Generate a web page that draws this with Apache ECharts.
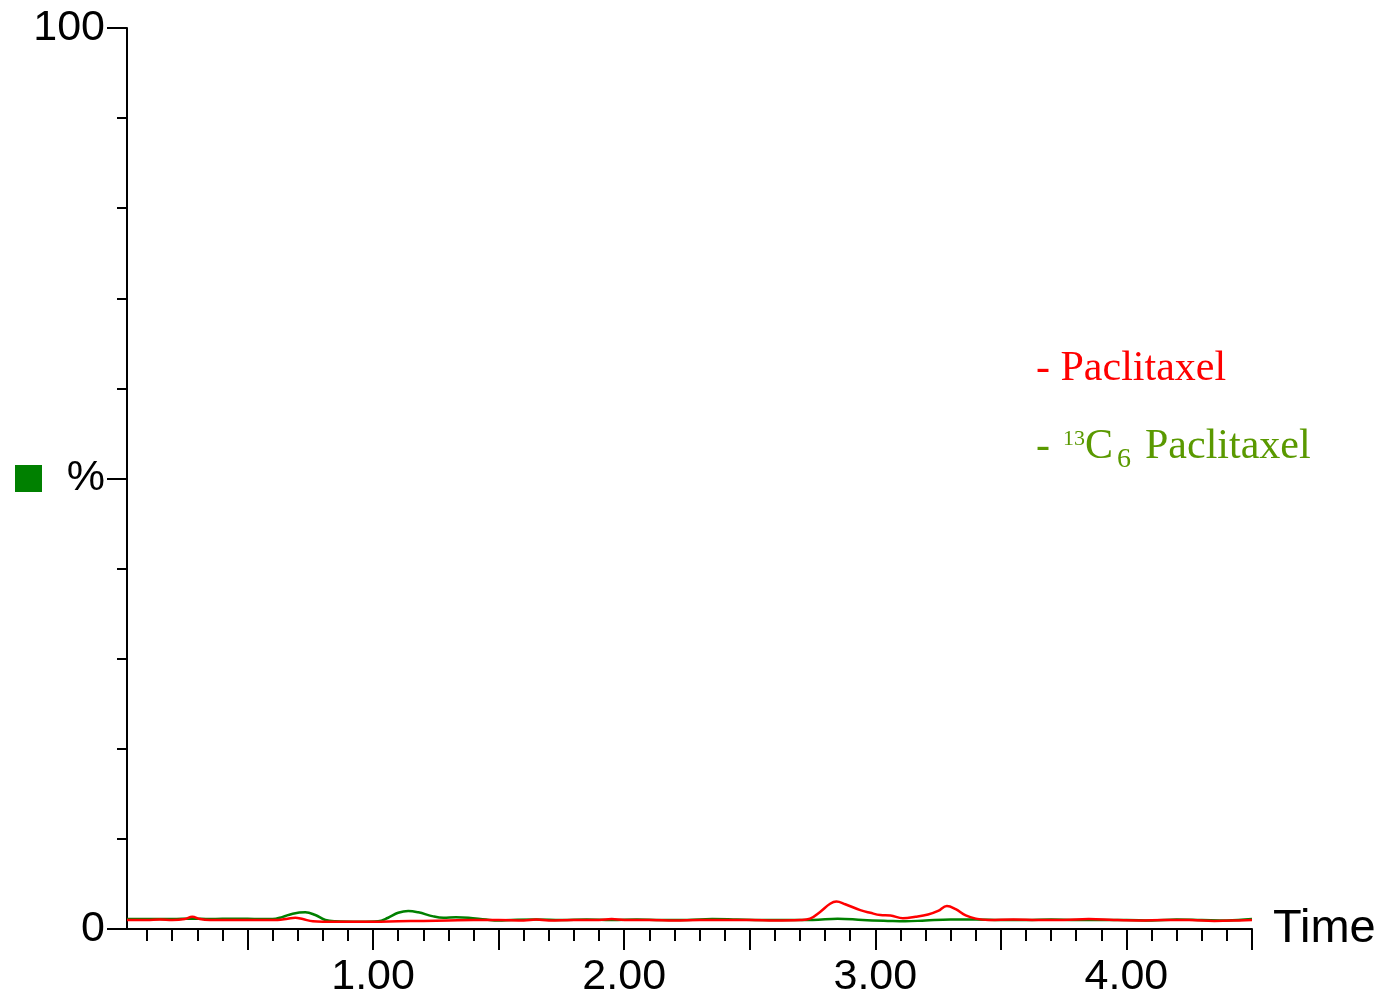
<!DOCTYPE html>
<html>
<head>
<meta charset="utf-8">
<script src="https://cdn.jsdelivr.net/npm/echarts@6/dist/echarts.min.js"></script>
<style>html,body{margin:0;padding:0;background:#fff}#c{width:1382px;height:1001px}</style>
</head>
<body>
<div id="c"></div>
<script>
// ---- data ----
const redTime = [0.02,0.10,0.15,0.20,0.25,0.28,0.31,0.35,0.45,0.55,0.62,0.66,0.69,0.72,0.76,0.80,0.90,1.00,1.10,1.20,1.30,1.40,1.50,1.60,1.65,1.70,1.80,1.90,1.95,2.00,2.10,2.20,2.30,2.40,2.50,2.60,2.70,2.74,2.78,2.82,2.845,2.88,2.94,2.98,3.02,3.06,3.11,3.16,3.21,3.25,3.285,3.32,3.36,3.40,3.45,3.55,3.65,3.75,3.85,3.95,4.05,4.15,4.25,4.35,4.45,4.50];
const redValue = [1.0,1.0,1.05,1.0,1.1,1.35,1.1,1.0,1.0,1.0,1.0,1.15,1.25,1.1,0.85,0.8,0.8,0.8,0.85,0.9,0.95,1.0,1.0,0.95,1.05,0.95,1.0,1.0,1.1,1.0,1.0,0.95,1.0,1.0,1.0,0.95,1.0,1.15,1.9,2.8,3.05,2.75,2.1,1.8,1.55,1.5,1.2,1.35,1.6,2.0,2.55,2.2,1.5,1.15,1.0,1.05,1.0,1.0,1.1,1.0,0.95,1.0,1.0,0.9,0.95,1.0];
const greenTime = [0.02,0.10,0.20,0.28,0.35,0.45,0.55,0.60,0.64,0.68,0.73,0.77,0.81,0.85,0.95,1.02,1.06,1.10,1.14,1.18,1.24,1.28,1.33,1.38,1.45,1.50,1.55,1.65,1.75,1.85,1.95,2.05,2.15,2.25,2.35,2.45,2.55,2.65,2.75,2.85,2.95,3.05,3.12,3.20,3.30,3.40,3.50,3.60,3.70,3.80,3.90,4.00,4.10,4.20,4.30,4.40,4.50];
const greenValue = [1.1,1.1,1.1,1.15,1.1,1.15,1.1,1.1,1.35,1.7,1.85,1.55,1.0,0.85,0.8,0.85,1.25,1.8,2.0,1.85,1.4,1.25,1.3,1.25,1.05,0.95,1.0,1.05,1.0,1.05,1.0,1.05,1.0,1.0,1.1,1.05,1.0,1.0,1.0,1.15,1.0,0.9,0.85,0.95,1.05,1.05,1.0,1.0,1.05,1.0,1.0,1.0,0.95,1.05,1.0,0.95,1.1];
const xMajorTicks = [0.5,1,1.5,2,2.5,3,3.5,4,4.5];
const xMinorTicks = [0.1,0.2,0.3,0.4,0.6,0.7,0.8,0.9,1.1,1.2,1.3,1.4,1.6,1.7,1.8,1.9,2.1,2.2,2.3,2.4,2.6,2.7,2.8,2.9,3.1,3.2,3.3,3.4,3.6,3.7,3.8,3.9,4.1,4.2,4.3,4.4];
const xLabels = [1,2,3,4];
const yMajorTicks = [0,50,100];
const yMinorTicks = [10,20,30,40,60,70,80,90];
const yLabels = [0,50,100];
const seriesNames = ['Paclitaxel','13C6 Paclitaxel'];

const SANS = '"Liberation Sans", Arial, Helvetica, sans-serif';
const SERIF = '"Liberation Serif", "Times New Roman", serif';
const RED = '#ff0000', GREEN = '#008000', LEG_GREEN = '#5a9900';

const chart = echarts.init(document.getElementById('c'));
const tickStyle = {color:'#000', width:2};
chart.setOption({
  animation: false,
  backgroundColor: '#fff',
  grid: {left:127, right:130, top:28, bottom:72, containLabel:false},
  xAxis: [
    {type:'value', min:0.02, max:4.5, position:'bottom',
     axisLine:{show:true, onZero:false, lineStyle:{color:'#000', width:2}},
     axisTick:{show:true, customValues:xMajorTicks, length:21, lineStyle:tickStyle},
     axisLabel:{customValues:xLabels, formatter:v=>Number(v).toFixed(2), fontSize:43, color:'#000', fontFamily:SANS, margin:27},
     splitLine:{show:false},
     name:'Time', nameLocation:'end', nameGap:21,
     nameTextStyle:{fontSize:47, color:'#000', fontFamily:SANS, verticalAlign:'middle', align:'left', padding:[5,0,0,0]}},
    {type:'value', min:0.02, max:4.5, position:'bottom',
     axisLine:{show:false, onZero:false},
     axisTick:{show:true, customValues:xMinorTicks, length:12, lineStyle:tickStyle},
     axisLabel:{show:false}, splitLine:{show:false}}
  ],
  yAxis: [
    {type:'value', min:0, max:100, position:'left',
     axisLine:{show:true, onZero:false, lineStyle:{color:'#000', width:2}},
     axisTick:{show:true, customValues:yMajorTicks, length:20, lineStyle:tickStyle},
     axisLabel:{customValues:yLabels, formatter:v=>(v===50?'%':String(v)), fontSize:43, color:'#000', fontFamily:SANS, margin:22},
     splitLine:{show:false}},
    {type:'value', min:0, max:100, position:'left',
     axisLine:{show:false, onZero:false},
     axisTick:{show:true, customValues:yMinorTicks, length:10, lineStyle:tickStyle},
     axisLabel:{show:false}, splitLine:{show:false}}
  ],
  series: [
    {name:seriesNames[1], type:'line', xAxisIndex:0, yAxisIndex:0, showSymbol:false, smooth:0.4,
     lineStyle:{color:GREEN, width:2.5}, data:greenTime.map((t,i)=>[t,greenValue[i]])},
    {name:seriesNames[0], type:'line', xAxisIndex:0, yAxisIndex:0, showSymbol:false, smooth:0.4,
     lineStyle:{color:RED, width:2.5}, data:redTime.map((t,i)=>[t,redValue[i]])}
  ],
  graphic: [
    {type:'rect', left:15, top:465, shape:{width:27, height:27}, style:{fill:GREEN}},
    {type:'text', x:1036, y:369, style:{text:'- ' + seriesNames[0], font:'42px ' + SERIF, fill:RED, textVerticalAlign:'middle'}},
    {type:'text', x:1036, y:446.5, style:{text:'-', font:'42px ' + SERIF, fill:LEG_GREEN, textVerticalAlign:'middle'}},
    {type:'text', x:1063, y:439, style:{text:'13', font:'22px ' + SERIF, fill:LEG_GREEN, textVerticalAlign:'middle'}},
    {type:'text', x:1085, y:446.5, style:{text:'C', font:'42px ' + SERIF, fill:LEG_GREEN, textVerticalAlign:'middle'}},
    {type:'text', x:1117, y:459.5, style:{text:'6', font:'28px ' + SERIF, fill:LEG_GREEN, textVerticalAlign:'middle'}},
    {type:'text', x:1145, y:446.5, style:{text:'Paclitaxel', font:'42px ' + SERIF, fill:LEG_GREEN, textVerticalAlign:'middle'}}
  ]
});
</script>
</body>
</html>
